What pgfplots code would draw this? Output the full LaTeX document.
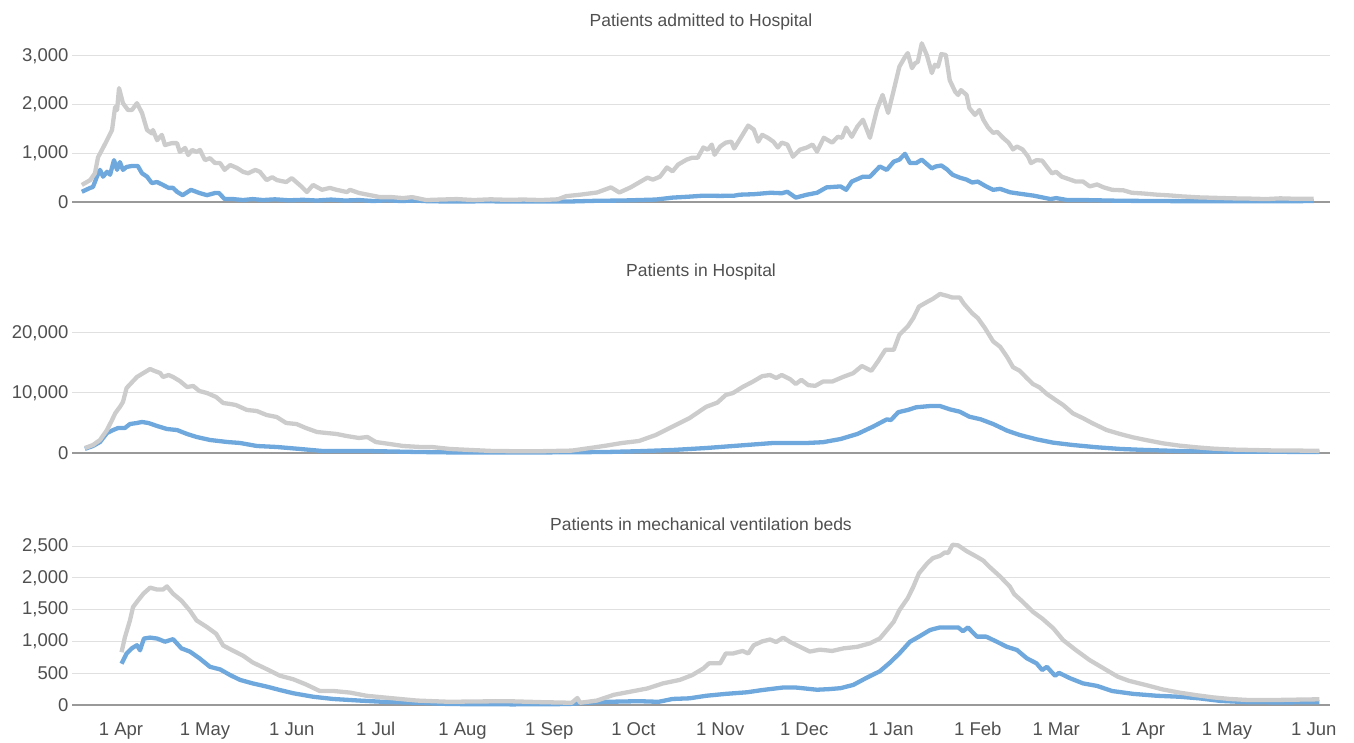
\documentclass[border=0pt]{standalone}
\usepackage{fontspec}
\setmainfont{Liberation Sans}
\usepackage{pgfplots}
\usepackage{pgfplotstable}
\pgfplotsset{compat=1.18}
\definecolor{lgray}{HTML}{CCCCCC}
\definecolor{lblue}{HTML}{6FA8DC}
\definecolor{gridc}{HTML}{E0E0E0}
\definecolor{basec}{HTML}{999999}
\definecolor{txtc}{HTML}{505050}

\pgfplotstableread{
d v
-14 350
-11 450
-9.3 590
-8.2 920
-6.8 1070
-5 1270
-3.2 1480
-2.1 1950
-1.4 1890
-0.7 2340
0.7 2030
2.5 1890
3.9 1890
5.7 2030
7.5 1830
9.3 1480
11 1410
11.4 1480
12.9 1270
14.6 1380
15.7 1170
18.2 1210
20 1210
21 1030
22.9 1110
24 965
25.4 1070
27 1030
28.2 1070
30 860
31.8 900
33.6 800
35.4 800
37 660
39 760
41.4 700
43.6 620
45.4 590
48 660
49.6 620
52 450
54 510
55.7 450
59 410
61 490
63 390
64.6 310
66.4 205
68.6 350
71.8 250
74.6 290
77 250
80.7 205
81.8 250
85 185
89 140
92.5 100
96.8 100
100.7 80
104 100
109 40
114 50
120 60
126 40
132 55
138 45
144 50
150 40
156 55
159 120
164 150
170 195
175 300
178 195
182 300
185 400
188 500
190 460
192.5 520
195 710
197 630
199 770
202 870
204 910
206 910
208 1120
209.6 1075
211 1180
212 970
214 1140
216 1220
218 1240
219 1100
222 1380
224 1570
226 1490
227.6 1240
229 1380
231 1320
233 1240
234.6 1120
236 1220
238 1180
240 930
242.5 1075
245 1120
247 1180
248.6 1035
251 1320
254 1220
256 1340
257.5 1320
259 1530
261 1340
263 1550
265 1690
267.5 1320
270 1900
272 2200
274 1830
276 2300
278 2780
280 2980
281 3060
282.5 2750
283.6 2850
284.6 2880
286 3260
287.8 3020
289.6 2650
290.7 2820
291.8 2780
293 3040
294.6 3020
296 2500
298 2260
299 2200
300 2300
302 2200
303 1930
305 1790
306.6 1890
308 1690
309.7 1530
311.5 1420
313 1440
315 1320
317 1220
318.6 1080
320 1140
322 1080
324 930
325 800
327 860
329 850
330.7 720
332.5 590
334 620
336 520
339 460
341 420
343.6 420
346 320
348.6 360
351 300
354 250
358 240
361 190
365 175
370 150
374.6 135
379 115
385 95
391 85
397 75
403 70
409 60
414 75
420 65
426 65
}\admGray

\pgfplotstableread{
d v
-14 210
-11 290
-10 310
-8.6 520
-7.5 660
-6.4 520
-5 620
-3.9 560
-2.5 860
-1.4 660
-0.4 820
0.7 660
2 720
3.9 740
6 740
7.5 590
9.3 520
11 390
12.9 410
15 350
17 290
18.6 290
20 210
22 140
25 250
28 185
30.7 140
33.6 185
35 185
37 60
40 60
43.6 40
47 60
50.7 40
55 55
60 35
65 45
70 30
75 50
80 30
85 40
90 20
95 35
100 20
105 30
110 15
120 10
130 15
140 10
150 10
160 10
170 25
179 30
185 40
191 50
197 90
203 110
208 130
214 125
219 130
221 150
226 160
232 190
236 180
238 210
241 90
245 150
248.6 190
252 300
257 320
259 250
261 420
265 520
267.5 520
271 730
273.5 660
276 830
278 870
280 990
281.8 800
284 800
286 870
288 770
289.6 690
291 730
293 750
295 670
297 560
299.6 500
302 460
304 400
306 420
309 320
311.5 250
314 270
317.5 200
321 170
326 130
332 60
334 80
338 40
344 40
357 25
370 20
385 15
400 15
414 15
426 20
}\admBlue

\pgfplotstableread{
d v
-12.9 830
-10 1330
-7.5 2170
-5 3830
-3.2 5500
-2 6670
-0.4 7670
0.7 8500
2 10830
4 11830
5.7 12670
8 13330
10.4 14000
12 13670
14 13330
15 12670
17 13000
18.6 12670
21 12000
23.6 11000
25.8 11170
28 10330
30.7 10000
34 9330
36.5 8330
39 8170
41 8000
45 7170
48.5 7000
52 6330
55.6 6000
59 5000
62.7 4830
66 4170
70 3500
73.5 3330
77 3170
80.6 2830
85 2500
88 2670
91 1830
96 1500
100.7 1170
107 1000
111 1000
117.5 670
125 500
132 350
140 300
150 300
161 400
167.5 830
173.6 1250
179 1670
185 2000
191 3000
197 4400
203 5800
209 7700
213 8400
216 9670
218.6 10000
222 11000
225.7 11900
229 12800
231.8 13000
234 12500
236 13000
239 12300
241 11500
243 12200
245.5 11300
248 11200
250.7 11900
254 11900
258 12700
261.5 13300
264.6 14500
268 13700
270.4 15300
273 17200
276 17200
278 19700
281 21100
283 22500
285 24400
288 25200
290 25700
292.5 26500
295 26200
297 25900
299.6 25900
301 24900
304 23300
306 22500
308.6 20800
311.5 18600
314 17700
316.5 16000
318.6 14300
321 13700
323.5 12500
325.7 11500
328 10950
330.7 9830
333 9100
336.5 8000
340 6600
343.6 5800
347 4950
352 3830
356.8 3170
361.5 2600
366 2170
372 1620
378 1230
384 950
390 730
397 570
404 500
414 400
421 400
428 350
}\hosGray

\pgfplotstableread{
d v
-12.9 700
-10 1170
-7.5 1830
-5 3330
-2.8 3830
-1 4170
1.4 4170
3.2 4830
5.7 5000
7.5 5170
9.8 5000
12.9 4500
16.4 4000
20 3830
23.6 3170
27 2670
31.8 2170
38 1830
42.5 1670
48.5 1170
55.7 1000
64 670
72 330
88 330
105.7 170
117.5 100
140 80
160 120
173.6 170
185 300
197 500
209 830
221 1250
233 1670
245 1670
250.7 1800
257 2330
263 3170
268.6 4400
273.5 5600
275 5500
277.6 6800
281 7170
284 7620
289 7830
292.5 7830
296 7280
299.6 6880
303 6050
307 5620
311.5 4830
316.5 3720
321 3000
327 2280
333 1720
340 1330
348.6 950
357 670
366 500
378 330
390 250
402 200
414 200
428 150
}\hosBlue

\pgfplotstableread{
d v
0.2 830
1.4 1065
3.2 1330
4.3 1540
6 1640
8 1750
10.4 1845
12.9 1815
15 1815
16.4 1865
18.6 1750
21.6 1640
24.6 1485
27 1330
30.7 1225
34 1120
36.5 935
40 855
43.6 775
47 670
52 565
56.8 460
61.5 405
66 325
71 220
76 220
81.8 195
87.7 145
93.6 120
99.6 95
105.7 70
111.4 60
117.5 50
125 55
138 60
150 45
161 35
163 110
164 35
170 70
176 160
182 210
188 260
193.6 340
199.6 395
204 470
208 575
210 655
214 655
216 810
218.6 810
222 850
224 810
226 940
229 1000
231.8 1030
234 990
236.5 1060
239 990
242.5 915
246 840
249.6 870
254 850
258 890
263 915
267.5 970
271 1045
273.5 1175
276 1310
278 1490
281 1680
283 1860
285 2070
288 2230
290 2310
292.5 2345
294.3 2400
295.4 2390
297 2520
299 2510
302 2420
305.7 2330
308 2270
310 2180
314 2020
317.5 1860
319 1745
322 1625
325.7 1465
329 1360
333 1205
336.5 1020
341 865
346 705
351 575
356 445
360 380
366 315
372 245
378 195
384 155
390 120
396 95
402 80
414 80
428 90
}\venGray

\pgfplotstableread{
d v
0.2 650
2 810
3.8 890
5.7 940
6.8 860
8.2 1045
10.4 1060
12.9 1045
15.7 995
18.6 1035
21.6 890
24.6 840
28 735
31.8 600
35.4 560
39 470
42.5 395
47 340
52 290
56.8 235
61.5 185
68.6 130
75.7 95
85 70
93.6 50
105.7 35
117.5 15
140 10
160 15
164 30
173.6 50
185 60
192 50
197 95
203 105
209 145
216 175
223.6 200
229 235
236.5 275
241 275
248.6 240
253 250
257 265
261.5 315
266.4 430
271 530
274.6 665
278 810
281.8 995
285 1075
289 1180
292.5 1220
296 1220
299 1220
300.7 1160
302.5 1220
305.7 1075
309 1075
312.8 995
316.4 915
320 865
323.5 735
327 655
329 550
330.7 600
333.6 460
335 505
339 420
343.6 340
348.6 300
354 220
361.5 175
370 145
378 130
385 105
392.5 65
402 45
414 40
428 45
}\venBlue

\pgfplotsset{
  panel/.style={
    scale only axis,
    width=1258pt,
    anchor=south west,
    xmin=-17.5, xmax=431.8,
    ymin=0,
    clip=false,
    axis line style={draw=none},
    major tick length=0pt,
    ymajorgrids,
    grid style={draw=gridc, line width=1pt},
    extra y ticks={0},
    extra y tick labels={},
    extra y tick style={grid style={draw=basec, line width=1.6pt}},
    scaled ticks=false,
    /pgf/number format/1000 sep={,},
    /pgf/number format/assume math mode=true,
    tick label style={font=\fontsize{18.5}{20}\selectfont, text=txtc},
    xtick={0,30,61,91,122,153,183,214,244,275,306,334,365,395,426},
    xticklabels={},
  },
  gline/.style={draw=lgray, line width=4.3pt, line join=round, no markers},
  bline/.style={draw=lblue, line width=4.3pt, line join=round, no markers},
}

\begin{document}
\begin{tikzpicture}
\useasboundingbox (0pt,0pt) rectangle (1354pt,742pt);

\begin{axis}[panel, at={(72pt,540pt)}, height=146pt, ymax=3000,
  ytick={0,1000,2000,3000}]
\addplot[bline] table[x=d,y=v] {\admBlue};
\addplot[gline] table[x=d,y=v] {\admGray};
\end{axis}

\begin{axis}[panel, at={(72pt,289pt)}, height=120pt, ymax=20000,
  ytick={0,10000,20000}]
\addplot[bline] table[x=d,y=v] {\hosBlue};
\addplot[gline] table[x=d,y=v] {\hosGray};
\end{axis}

\begin{axis}[panel, at={(72pt,37pt)}, height=159pt, ymax=2500,
  ytick={0,500,1000,1500,2000,2500},
  xticklabels={1 Apr,1 May,1 Jun,1 Jul,1 Aug,1 Sep,1 Oct,1 Nov,1 Dec,1 Jan,1 Feb,1 Mar,1 Apr,1 May,1 Jun},
  xticklabel style={yshift=-14pt}]
\addplot[bline] table[x=d,y=v] {\venBlue};
\addplot[gline] table[x=d,y=v] {\venGray};
\end{axis}

\node[font=\fontsize{17.5}{20}\selectfont, text=txtc] at (701pt,720pt) {Patients admitted to Hospital};
\node[font=\fontsize{17.5}{20}\selectfont, text=txtc] at (701pt,470pt) {Patients in Hospital};
\node[font=\fontsize{17.5}{20}\selectfont, text=txtc] at (701pt,218pt) {Patients in mechanical ventilation beds};
\end{tikzpicture}
\end{document}
